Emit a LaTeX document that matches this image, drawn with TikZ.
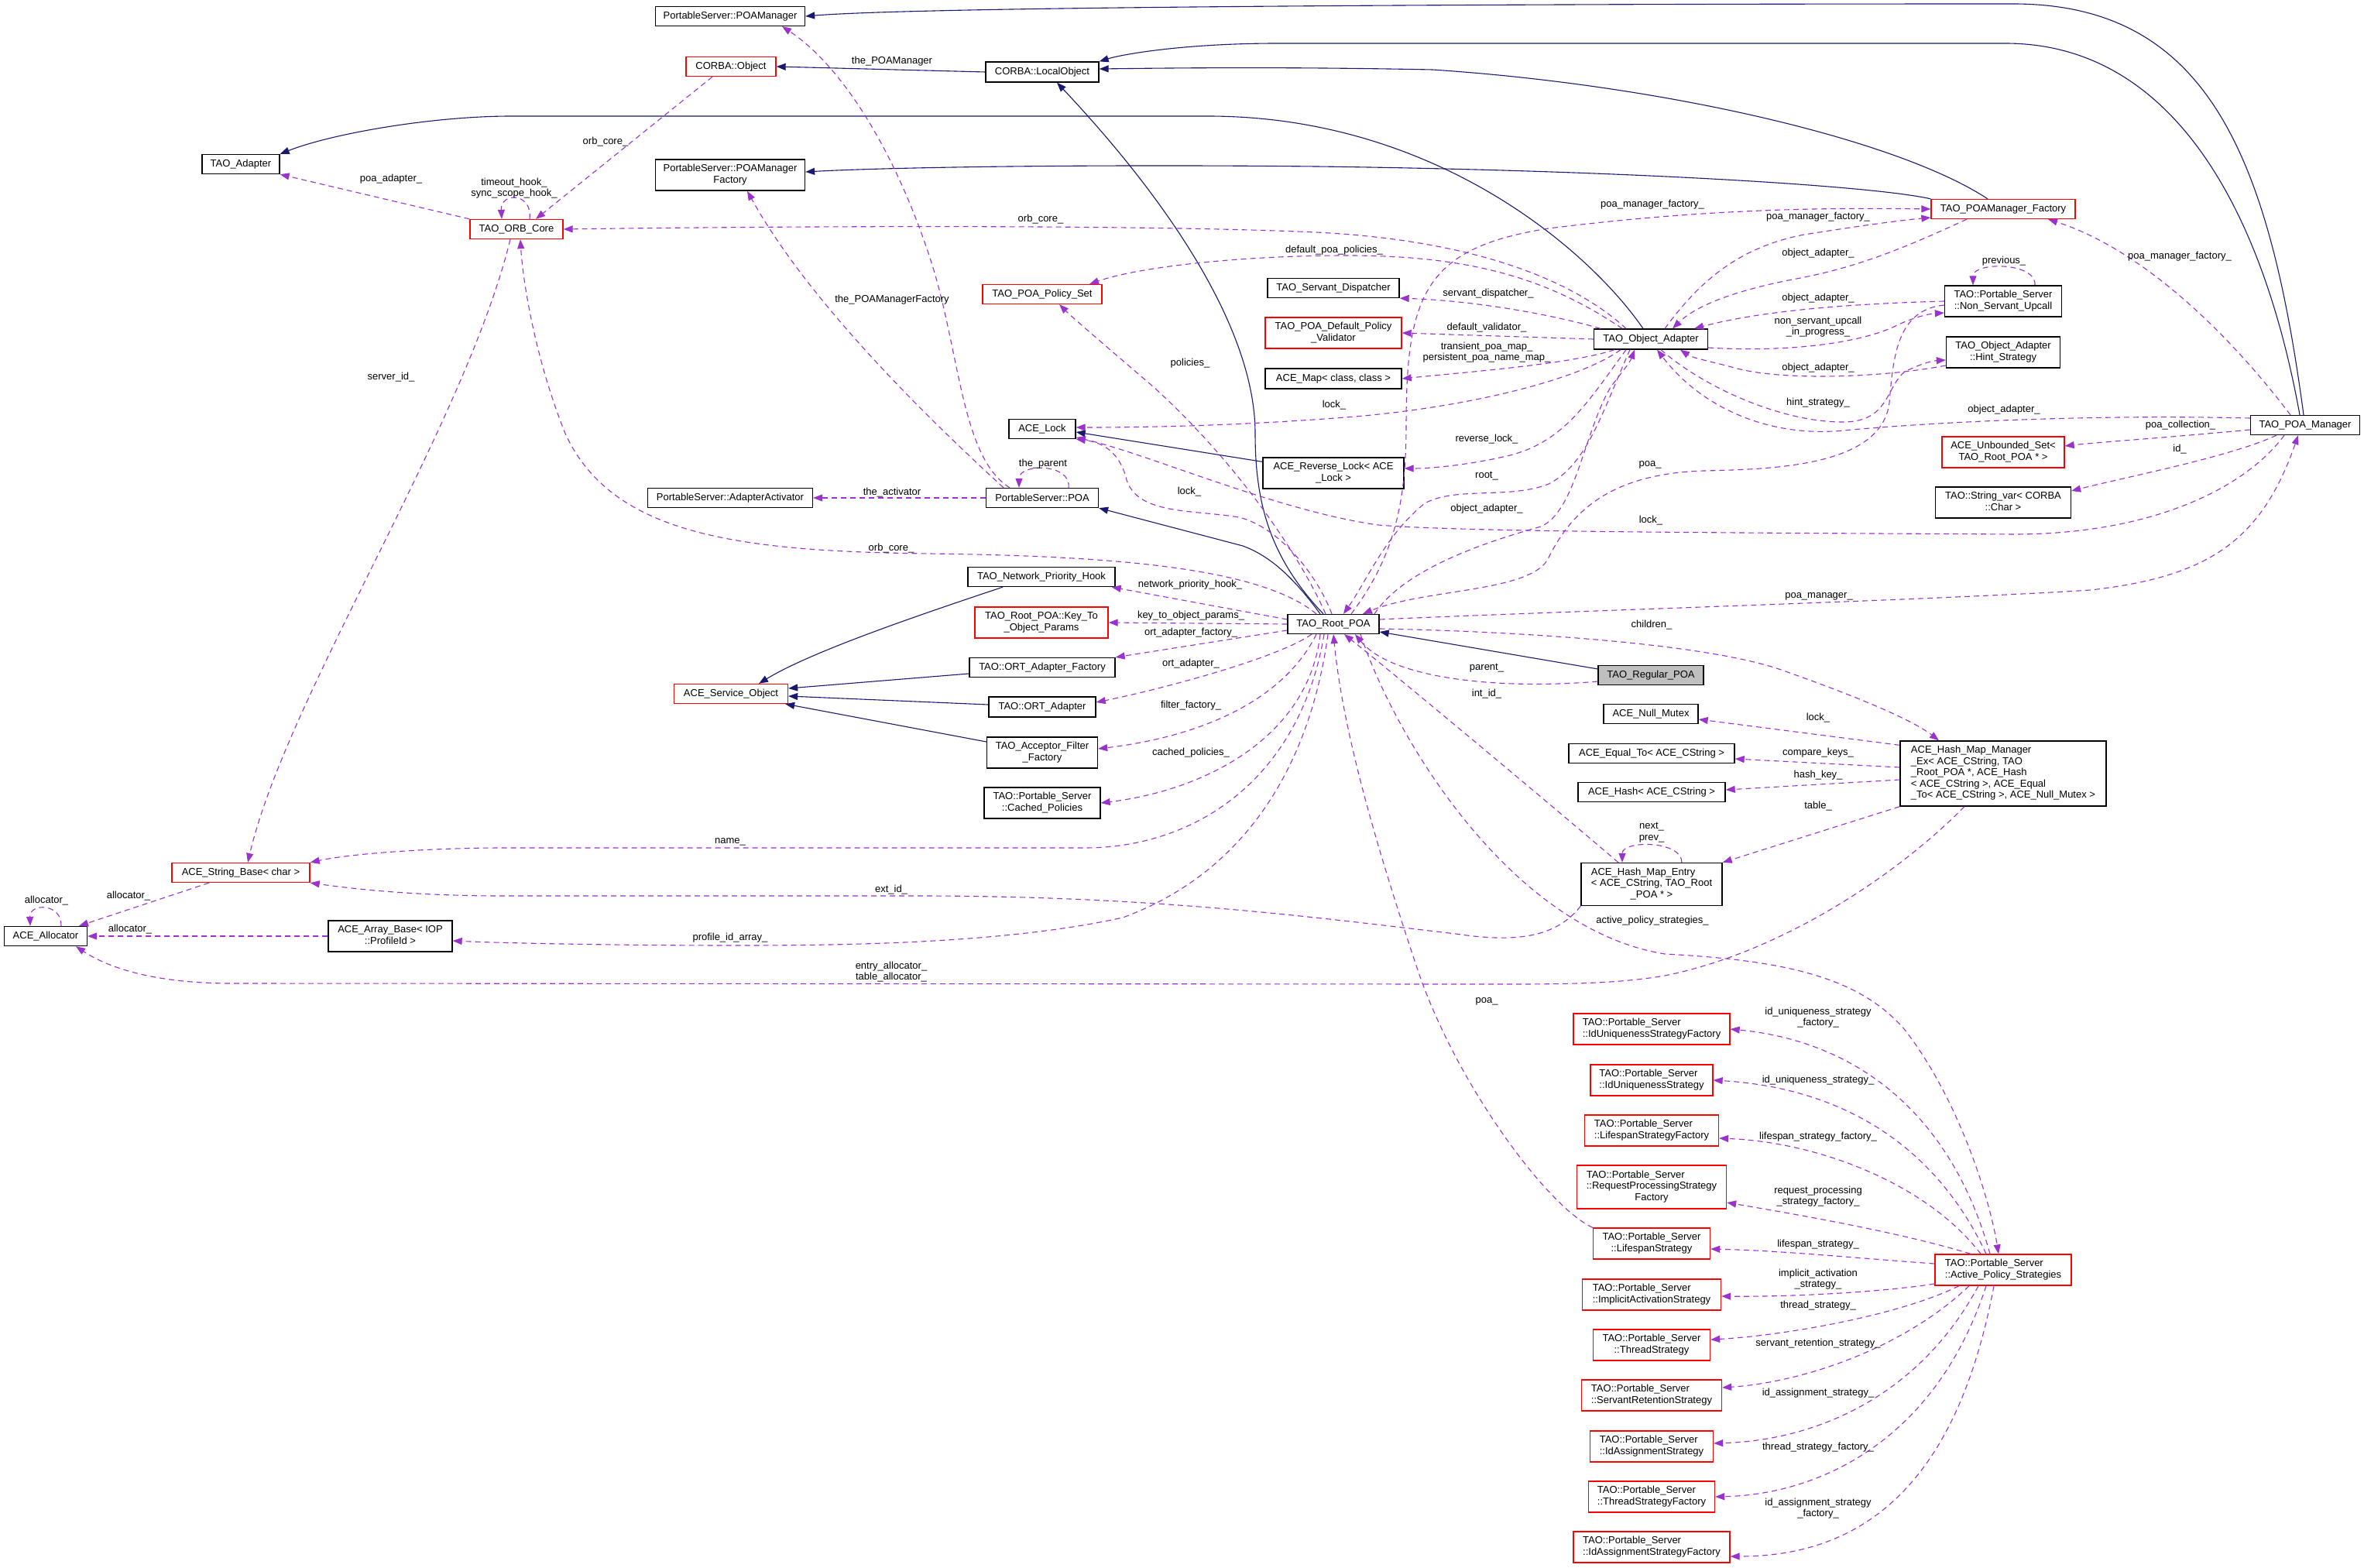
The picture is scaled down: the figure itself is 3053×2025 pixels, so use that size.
\documentclass[tikz,border=0pt]{standalone}
\usepackage{fontspec}
\usetikzlibrary{arrows.meta}
\newfontfamily\dfont{Liberation Sans}
\newcommand\dfnt{\dfont\fontsize{13}{14.5}\selectfont}
\newcommand\dtwo[2]{\begin{tabular}{@{}l@{}}#1\\\multicolumn{1}{@{}c@{}}{#2}\end{tabular}}
\newcommand\dthree[3]{\begin{tabular}{@{}l@{}}#1\\#2\\\multicolumn{1}{@{}c@{}}{#3}\end{tabular}}
\definecolor{navyc}{HTML}{191970}
\definecolor{orchidc}{HTML}{9A32CD}
\definecolor{grayc}{HTML}{BFBFBF}
\definecolor{redc}{HTML}{FF0000}
\begin{document}
\begin{tikzpicture}[x=1pt,y=-1pt,
  boxk/.style={draw=black,line width=1.3pt,fill=white,inner sep=0pt,font=\dfnt},
  boxr/.style={boxk,draw=redc},
  boxg/.style={boxk,fill=grayc},
  inhline/.style={draw=navyc,line width=1.1pt,-{Triangle[length=12pt,width=9pt]}},
  useline/.style={draw=orchidc,line width=1.1pt,dash pattern=on 7pt off 5pt,-{Triangle[length=12pt,width=9pt]}},
  elabel/.style={font=\dfnt,inner sep=0pt,align=center}]
\useasboundingbox (0,0) rectangle (3053,2025);
\fill[white] (0,0) rectangle (3053,2025);

% ---------- nodes ----------
\node[boxk,minimum width=193pt,minimum height=25pt] (psm) at (943,21) {PortableServer::POAManager};
\node[boxr,minimum width=116pt,minimum height=25pt] (cobj) at (944,86) {CORBA::Object};
\node[boxk,minimum width=146pt,minimum height=26pt] (lobj) at (1346,93) {CORBA::LocalObject};
\node[boxk,minimum width=100pt,minimum height=25pt] (tadp) at (311,212) {TAO\_Adapter};
\node[boxk,minimum width=193pt,minimum height=40pt] (psmf) at (943,226) {\dtwo{PortableServer::POAManager}{Factory}};
\node[boxr,minimum width=120pt,minimum height=25pt] (orb) at (667,296) {TAO\_ORB\_Core};
\node[boxr,minimum width=154pt,minimum height=25pt] (pset) at (1346,380) {TAO\_POA\_Policy\_Set};
\node[boxk,minimum width=170pt,minimum height=25pt] (sdisp) at (1722,372) {TAO\_Servant\_Dispatcher};
\node[boxr,minimum width=176pt,minimum height=40pt] (dpv) at (1722,430) {\dtwo{TAO\_POA\_Default\_Policy}{\_Validator}};
\node[boxk,minimum width=176pt,minimum height=26pt] (amap) at (1722,489) {ACE\_Map< class, class >};
\node[boxk,minimum width=86pt,minimum height=25pt] (alock) at (1346,554) {ACE\_Lock};
\node[boxk,minimum width=182pt,minimum height=40pt] (rlock) at (1722,611) {\dtwo{ACE\_Reverse\_Lock< ACE}{\_Lock >}};
\node[boxk,minimum width=213pt,minimum height=25pt] (aact) at (943,643) {PortableServer::AdapterActivator};
\node[boxk,minimum width=145pt,minimum height=25pt] (poa) at (1346,643) {PortableServer::POA};
\node[boxr,minimum width=186pt,minimum height=25pt] (pmf) at (2587,270) {TAO\_POAManager\_Factory};
\node[boxk,minimum width=151pt,minimum height=40pt] (nsu) at (2587,389) {\dtwo{TAO::Portable\_Server}{::Non\_Servant\_Upcall}};
\node[boxk,minimum width=147pt,minimum height=26pt] (oa) at (2132,438) {TAO\_Object\_Adapter};
\node[boxk,minimum width=147pt,minimum height=40pt] (hint) at (2587,455) {\dtwo{TAO\_Object\_Adapter}{::Hint\_Strategy}};
\node[boxk,minimum width=141pt,minimum height=25pt] (pman) at (2977,549) {TAO\_POA\_Manager};
\node[boxr,minimum width=158pt,minimum height=40pt] (uset) at (2587,584) {\dtwo{ACE\_Unbounded\_Set<}{TAO\_Root\_POA * >}};
\node[boxk,minimum width=175pt,minimum height=40pt] (svar) at (2587,649) {\dtwo{TAO::String\_var< CORBA}{::Char >}};
\node[boxk,minimum width=190pt,minimum height=25pt] (nph) at (1345,745) {TAO\_Network\_Priority\_Hook};
\node[boxr,minimum width=172pt,minimum height=40pt] (ktop) at (1345,804) {\dtwo{TAO\_Root\_POA::Key\_To}{\_Object\_Params}};
\node[boxk,minimum width=188pt,minimum height=25pt] (ortf) at (1346,862) {TAO::ORT\_Adapter\_Factory};
\node[boxr,minimum width=147pt,minimum height=25pt] (sobj) at (944,896) {ACE\_Service\_Object};
\node[boxk,minimum width=138pt,minimum height=26pt] (orta) at (1346,913) {TAO::ORT\_Adapter};
\node[boxk,minimum width=143pt,minimum height=40pt] (aff) at (1346,972) {\dtwo{TAO\_Acceptor\_Filter}{\_Factory}};
\node[boxk,minimum width=150pt,minimum height=40pt] (cpol) at (1346,1037) {\dtwo{TAO::Portable\_Server}{::Cached\_Policies}};
\node[boxk,minimum width=118pt,minimum height=25pt] (rpoa) at (1722,806) {TAO\_Root\_POA};
\node[boxg,minimum width=136pt,minimum height=25pt] (regpoa) at (2132,872) {TAO\_Regular\_POA};
\node[boxk,minimum width=122pt,minimum height=25pt] (nmutex) at (2132,922) {ACE\_Null\_Mutex};
\node[boxk,minimum width=214pt,minimum height=25pt] (eqto) at (2133,973) {ACE\_Equal\_To< ACE\_CString >};
\node[boxk,minimum width=190pt,minimum height=25pt] (ahash) at (2133,1023) {ACE\_Hash< ACE\_CString >};
\node[boxk,minimum width=266pt,minimum height=84pt] (hmm) at (2587,999) {\begin{tabular}{@{}l@{}}ACE\_Hash\_Map\_Manager\\\_Ex< ACE\_CString, TAO\\\_Root\_POA *, ACE\_Hash\\< ACE\_CString >, ACE\_Equal\\\_To< ACE\_CString >, ACE\_Null\_Mutex >\end{tabular}};
\node[boxk,minimum width=182pt,minimum height=55pt] (hme) at (2133,1142) {\dthree{ACE\_Hash\_Map\_Entry}{< ACE\_CString, TAO\_Root}{\_POA * >}};
\node[boxr,minimum width=178pt,minimum height=25pt] (sbase) at (311,1127) {ACE\_String\_Base< char >};
\node[boxk,minimum width=107pt,minimum height=25pt] (alloc) at (59,1209) {ACE\_Allocator};
\node[boxk,minimum width=160pt,minimum height=40pt] (abase) at (504,1209) {\dtwo{ACE\_Array\_Base< IOP}{::ProfileId >}};
\node[boxr,minimum width=202pt,minimum height=40pt] (iusf) at (2133,1329) {\dtwo{TAO::Portable\_Server}{::IdUniquenessStrategyFactory}};
\node[boxr,minimum width=158pt,minimum height=40pt] (ius) at (2133,1395) {\dtwo{TAO::Portable\_Server}{::IdUniquenessStrategy}};
\node[boxr,minimum width=173pt,minimum height=40pt] (lsf) at (2133,1460) {\dtwo{TAO::Portable\_Server}{::LifespanStrategyFactory}};
\node[boxr,minimum width=193pt,minimum height=56pt] (rpsf) at (2133,1533) {\dthree{TAO::Portable\_Server}{::RequestProcessingStrategy}{Factory}};
\node[boxr,minimum width=151pt,minimum height=40pt] (ls) at (2133,1606) {\dtwo{TAO::Portable\_Server}{::LifespanStrategy}};
\node[boxr,minimum width=179pt,minimum height=40pt] (ias) at (2133,1672) {\dtwo{TAO::Portable\_Server}{::ImplicitActivationStrategy}};
\node[boxr,minimum width=151pt,minimum height=40pt] (ts) at (2133,1737) {\dtwo{TAO::Portable\_Server}{::ThreadStrategy}};
\node[boxr,minimum width=181pt,minimum height=40pt] (srs) at (2133,1802) {\dtwo{TAO::Portable\_Server}{::ServantRetentionStrategy}};
\node[boxr,minimum width=159pt,minimum height=40pt] (ias2) at (2133,1868) {\dtwo{TAO::Portable\_Server}{::IdAssignmentStrategy}};
\node[boxr,minimum width=163pt,minimum height=40pt] (tsf) at (2133,1933) {\dtwo{TAO::Portable\_Server}{::ThreadStrategyFactory}};
\node[boxr,minimum width=202pt,minimum height=40pt] (iasf) at (2133,1998) {\dtwo{TAO::Portable\_Server}{::IdAssignmentStrategyFactory}};
\node[boxr,minimum width=176pt,minimum height=40pt] (aps) at (2587,1640) {\dtwo{TAO::Portable\_Server}{::Active\_Policy\_Strategies}};

% ---------- inheritance ----------
\draw[inhline] (lobj.west) -- (cobj.east);
\draw[inhline] (pman.north -| 2975,0) .. controls (2930,200) and (2850,5) .. (2600,5) .. controls (2000,5) and (1200,8) .. (psm.east);
\draw[inhline] (pman.north -| 2970,0) .. controls (2920,260) and (2800,56) .. (2590,56) -- (1650,56) .. controls (1530,56) and (1450,70) .. (lobj.north east);
\draw[inhline] (pmf.north -| 2567,0) .. controls (2450,180) and (2150,110) .. (1850,90) .. controls (1650,86) and (1500,88) .. ([yshift=4pt]lobj.east);
\draw[inhline] (pmf.north west) .. controls (2420,240) and (2100,220) .. (1700,215) .. controls (1400,212) and (1150,216) .. ([yshift=4pt]psmf.east);
\draw[inhline] (oa.north -| 2122,0) .. controls (2050,320) and (1850,150) .. (1560,150) -- (660,150) .. controls (560,150) and (430,172) .. (tadp.north east);
\draw[inhline] (rpoa.north -| 1709,0) .. controls (1640,720) and (1621,650) .. (1621,560) .. controls (1621,420) and (1500,250) .. (lobj.south -| 1365,0);
\draw[inhline] (rpoa.north -| 1705,0) .. controls (1670,745) and (1640,718) .. (1605,705) -- (poa.south east);
\draw[inhline] ([yshift=-6pt]rlock.north west) -- ([yshift=-4pt]alock.east);
\draw[inhline] ([yshift=8pt]regpoa.west) -- ([yshift=-10pt]rpoa.east);
\draw[inhline] (nph.south -| 1295,0) .. controls (1200,790) and (1050,840) .. (sobj.north -| 980,0);
\draw[inhline] ([yshift=-8pt]ortf.west) -- ([yshift=7pt]sobj.east);
\draw[inhline] ([yshift=3pt]orta.west) -- ([yshift=-3pt]sobj.east);
\draw[inhline] ([yshift=14pt]aff.west) -- ([xshift=-4pt]sobj.south east);

% ---------- usage ----------
\draw[useline] (cobj.south -| 920,0) -- (orb.north -| 692,0);
\draw[useline] (orb.north west) -- (tadp.south east);
\draw[useline] (orb.north -| 684,0) .. controls (688,248) and (646,248) .. (orb.north -| 648,0);
\draw[useline] (orb.south -| 659,0) .. controls (600,550) and (370,900) .. (sbase.north -| 320,0);
\draw[useline] (rpoa.north -| 1700,0) .. controls (1630,735) and (1450,718) .. (1200,715) .. controls (950,712) and (790,690) .. (730,560) .. controls (690,460) and (675,360) .. (orb.south -| 672,0);
\draw[useline] (oa.north -| 2100,0) .. controls (2030,360) and (1900,310) .. (1700,300) .. controls (1500,291) and (1100,291) .. (orb.east);
\draw[useline] (poa.north -| 1304,0) .. controls (1240,590) and (1240,450) .. (1200,330) .. controls (1150,180) and (1080,80) .. (psm.south -| 1010,0);
\draw[useline] (poa.north -| 1296,0) .. controls (1220,560) and (1050,400) .. (psmf.south -| 965,0);
\draw[useline] (poa.west) -- (aact.east);
\draw[useline] (poa.north -| 1380,0) .. controls (1384,598) and (1316,598) .. (poa.north -| 1316,0);
\draw[useline] (oa.north -| 2095,0) .. controls (2000,360) and (1900,330) .. (1740,330) .. controls (1600,330) and (1470,345) .. (pset.north -| 1407,0);
\draw[useline] (rpoa.north -| 1712,0) .. controls (1680,720) and (1600,600) .. (1490,500) .. controls (1420,440) and (1385,410) .. (pset.south -| 1368,0);
\draw[useline] (oa.north -| 2067,0) .. controls (2000,405) and (1900,388) .. (sdisp.south east);
\draw[useline] (oa.west) -- (dpv.east);
\draw[useline] (oa.south -| 2085,0) .. controls (2030,470) and (1900,480) .. (amap.east);
\draw[useline] (oa.south -| 2093,0) .. controls (2040,490) and (1900,525) .. (1750,538) .. controls (1600,550) and (1480,552) .. ([yshift=2pt]alock.east);
\draw[useline] (oa.south -| 2100,0) .. controls (2050,520) and (2020,570) .. (1950,588) .. controls (1900,600) and (1850,605) .. ([yshift=6pt]rlock.east);
\draw[useline] (oa.south -| 2105,0) .. controls (2070,530) and (2050,600) .. (2000,625) .. controls (1950,645) and (1880,628) .. (1840,650) .. controls (1790,690) and (1765,750) .. (rpoa.north -| 1735,0);
\draw[useline] (rpoa.north -| 1775,0) .. controls (1810,740) and (1900,705) .. (1990,680) .. controls (2035,660) and (2045,560) .. (2080,500) .. controls (2095,480) and (2105,468) .. (oa.south -| 2111,0);
\draw[useline] ([yshift=-5pt]nsu.west) .. controls (2450,400) and (2445,460) .. (2440,520) .. controls (2430,600) and (2300,606) .. (2200,608) .. controls (2080,612) and (2030,660) .. (2000,720) .. controls (1980,765) and (1840,760) .. (rpoa.north -| 1760,0);
\draw[useline] (rpoa.north -| 1745,0) .. controls (1800,720) and (1816,650) .. (1816,550) .. controls (1816,380) and (1840,320) .. (2000,295) .. controls (2200,270) and (2350,268) .. (pmf.west);
\draw[useline] (oa.north -| 2150,0) .. controls (2190,370) and (2240,320) .. (2330,303) .. controls (2400,292) and (2450,285) .. ([yshift=-11pt]pmf.west);
\draw[useline] (pmf.south -| 2540,0) .. controls (2460,320) and (2400,345) .. (2320,360) .. controls (2240,375) and (2190,395) .. (oa.north -| 2160,0);
\draw[useline] (nsu.west) .. controls (2400,392) and (2280,400) .. (oa.north -| 2188,0);
\draw[useline] ([yshift=-11pt]oa.east) .. controls (2300,455) and (2400,445) .. (2450,420) .. controls (2475,408) and (2495,405) .. ([yshift=-15pt]nsu.west);
\draw[useline] ([yshift=-17pt]hint.west) .. controls (2430,488) and (2300,492) .. (2240,475) .. controls (2210,467) and (2185,462) .. (oa.south -| 2170,0);
\draw[useline] (oa.south -| 2145,0) .. controls (2200,500) and (2300,545) .. (2380,545) .. controls (2440,545) and (2435,500) .. (2460,480) .. controls (2480,470) and (2495,466) .. ([yshift=-10pt]hint.west);
\draw[useline] ([yshift=9pt]pman.west) .. controls (2700,535) and (2500,545) .. (2380,556) .. controls (2290,565) and (2200,530) .. (oa.south -| 2140,0);
\draw[useline] (pman.north -| 2958,0) .. controls (2870,420) and (2760,320) .. (pmf.south -| 2645,0);
\draw[useline] ([yshift=-6pt]pman.west) .. controls (2800,565) and (2700,572) .. ([yshift=8pt]uset.east);
\draw[useline] (pman.south -| 2940,0) .. controls (2880,590) and (2750,615) .. ([yshift=15pt]svar.east);
\draw[useline] (pman.south -| 2950,0) .. controls (2900,630) and (2780,690) .. (2600,690) .. controls (2300,688) and (1900,688) .. (1780,678) .. controls (1650,660) and (1480,585) .. ([yshift=-11pt]alock.east);
\draw[useline] (rpoa.north -| 1720,0) .. controls (1700,740) and (1650,680) .. (1600,668) .. controls (1540,658) and (1470,665) .. (1455,620) .. controls (1448,590) and (1430,572) .. (alock.south east);
\draw[useline] ([yshift=6pt]rpoa.west) -- ([xshift=-5pt]nph.south east);
\draw[useline] (rpoa.west) -- (ktop.east);
\draw[useline] ([yshift=-8pt]rpoa.west) -- (ortf.north east);
\draw[useline] (rpoa.south -| 1694,0) .. controls (1650,850) and (1500,890) .. ([yshift=6pt]orta.east);
\draw[useline] (rpoa.south -| 1700,0) .. controls (1660,900) and (1560,950) .. ([yshift=5pt]aff.east);
\draw[useline] (rpoa.south -| 1705,0) .. controls (1690,950) and (1560,1020) .. (cpol.east);
\draw[useline] (rpoa.south -| 1710,0) .. controls (1680,1000) and (1550,1095) .. (1400,1095) -- (650,1095) .. controls (550,1095) and (450,1103) .. (sbase.north east);
\draw[useline] (hme.south west) .. controls (2010,1210) and (1960,1218) .. (1880,1206) .. controls (1700,1185) and (1500,1158) .. (1200,1157) -- (650,1157) .. controls (530,1157) and (450,1147) .. (sbase.south east);
\draw[useline] (rpoa.south -| 1715,0) .. controls (1690,1000) and (1600,1130) .. (1450,1185) .. controls (1300,1218) and (1100,1221) .. (950,1221) .. controls (800,1221) and (650,1218) .. ([yshift=-6pt]abase.east);
\draw[useline] (abase.west) -- (alloc.east);
\draw[useline] (sbase.south -| 270,0) -- (alloc.north -| 102,0);
\draw[useline] (alloc.north -| 79,0) .. controls (80,1166) and (38,1166) .. (alloc.north -| 39,0);
\draw[useline] (hmm.south -| 2537,0) .. controls (2450,1130) and (2300,1230) .. (2150,1260) .. controls (2080,1272) and (2000,1271) .. (1900,1271) -- (300,1270) .. controls (200,1270) and (140,1250) .. (alloc.south -| 98,0);
\draw[useline] ([yshift=-8pt]regpoa.west) .. controls (1950,890) and (1800,880) .. (rpoa.south -| 1750,0);
\draw[useline] (hme.north -| 2090,0) .. controls (1980,1020) and (1800,870) .. (rpoa.south -| 1736,0);
\draw[useline] ([yshift=-6pt]rpoa.east) .. controls (1950,815) and (2200,830) .. (2300,865) .. controls (2400,900) and (2470,930) .. (hmm.north -| 2504,0);
\draw[useline] ([yshift=6pt]rpoa.east) .. controls (2000,790) and (2500,775) .. (2700,762) .. controls (2850,745) and (2920,700) .. (pman.south -| 2968,0);
\draw[useline] (rpoa.south -| 1757,0) .. controls (1800,950) and (1950,1200) .. (2150,1232) .. controls (2300,1240) and (2400,1260) .. (2460,1330) .. controls (2530,1420) and (2570,1550) .. (aps.north -| 2581,0);
\draw[useline] (ls.north west) .. controls (2000,1560) and (1880,1400) .. (1830,1250) .. controls (1780,1100) and (1735,950) .. (rpoa.south -| 1722,0);
\draw[useline] ([yshift=-6pt]hmm.north west) -- ([yshift=-7pt]nmutex.east);
\draw[useline] ([yshift=8pt]hmm.west) -- ([yshift=-7pt]eqto.east);
\draw[useline] ([yshift=-8pt]hmm.west) -- ([yshift=3pt]ahash.east);
\draw[useline] (hmm.south west) -- (hme.north east);
\draw[useline] (hme.north -| 2172,0) .. controls (2172,1085) and (2095,1085) .. (hme.north -| 2095,0);
\draw[useline] (nsu.north -| 2628,0) .. controls (2630,338) and (2548,338) .. (nsu.north -| 2548,0);
\draw[useline] (aps.north -| 2570,0) .. controls (2520,1440) and (2400,1345) .. (iusf.east);
\draw[useline] (aps.north -| 2565,0) .. controls (2500,1480) and (2380,1405) .. (ius.east);
\draw[useline] (aps.north -| 2558,0) .. controls (2490,1530) and (2350,1475) .. ([yshift=-10pt]lsf.east);
\draw[useline] (aps.north -| 2545,0) .. controls (2450,1590) and (2300,1565) .. ([yshift=-20pt]rpsf.east);
\draw[useline] ([yshift=8pt]aps.west) .. controls (2400,1625) and (2300,1615) .. ([yshift=-7pt]ls.east);
\draw[useline] ([yshift=-18pt]aps.west) .. controls (2420,1670) and (2300,1675) .. ([yshift=-2pt]ias.east);
\draw[useline] (aps.south -| 2530,0) .. controls (2450,1700) and (2300,1725) .. ([yshift=7pt]ts.east);
\draw[useline] (aps.south -| 2543,0) .. controls (2460,1740) and (2330,1785) .. ([yshift=10pt]srs.east);
\draw[useline] (aps.south -| 2555,0) .. controls (2480,1800) and (2350,1860) .. ([yshift=4pt]ias2.east);
\draw[useline] (aps.south -| 2565,0) .. controls (2500,1860) and (2350,1930) .. (tsf.east);
\draw[useline] (aps.south -| 2575,0) .. controls (2530,1900) and (2420,2010) .. ([yshift=-12pt]iasf.east);

% ---------- labels ----------
\node[elabel] (l01) at (782,183) {orb\_core\_};
\node[elabel] (l02) at (505,231) {poa\_adapter\_};
\node[elabel] (l03) at (664,243) {timeout\_hook\_\\sync\_scope\_hook\_};
\node[elabel] (l04) at (505,487) {server\_id\_};
\node[elabel] (l05) at (1151,708) {orb\_core\_};
\node[elabel] (l06) at (1344,283) {orb\_core\_};
\node[elabel] (l07) at (1152,79) {the\_POAManager};
\node[elabel] (l08) at (1152,387) {the\_POAManagerFactory};
\node[elabel] (l09) at (1152,636) {the\_activator};
\node[elabel] (l10) at (1347,599) {the\_parent};
\node[elabel] (l11) at (1723,323) {default\_poa\_policies\_};
\node[elabel] (l12) at (1537,469) {policies\_};
\node[elabel] (l13) at (1922,379) {servant\_dispatcher\_};
\node[elabel] (l14) at (1920,423) {default\_validator\_};
\node[elabel] (l15) at (1920,455) {transient\_poa\_map\_\\persistent\_poa\_name\_map\_};
\node[elabel] (l16) at (1723,523) {lock\_};
\node[elabel] (l17) at (1920,567) {reverse\_lock\_};
\node[elabel] (l18) at (1920,615) {root\_};
\node[elabel] (l19) at (1920,657) {object\_adapter\_};
\node[elabel] (l20) at (1536,635) {lock\_};
\node[elabel] (l21) at (2131,600) {poa\_};
\node[elabel] (l22) at (2134,264) {poa\_manager\_factory\_};
\node[elabel] (l23) at (2348,280) {poa\_manager\_factory\_};
\node[elabel] (l24) at (2348,327) {object\_adapter\_};
\node[elabel] (l25) at (2588,337) {previous\_};
\node[elabel] (l26) at (2348,385) {object\_adapter\_};
\node[elabel] (l27) at (2348,422) {non\_servant\_upcall\\\_in\_progress\_};
\node[elabel] (l28) at (2348,475) {object\_adapter\_};
\node[elabel] (l29) at (2348,520) {hint\_strategy\_};
\node[elabel] (l30) at (2588,529) {object\_adapter\_};
\node[elabel] (l31) at (2815,331) {poa\_manager\_factory\_};
\node[elabel] (l32) at (2816,549) {poa\_collection\_};
\node[elabel] (l33) at (2815,580) {id\_};
\node[elabel] (l34) at (2132,672) {lock\_};
\node[elabel] (l35) at (1537,755) {network\_priority\_hook\_};
\node[elabel] (l36) at (1538,795) {key\_to\_object\_params\_};
\node[elabel] (l37) at (1538,817) {ort\_adapter\_factory\_};
\node[elabel] (l38) at (1538,857) {ort\_adapter\_};
\node[elabel] (l39) at (1538,911) {filter\_factory\_};
\node[elabel] (l40) at (1538,972) {cached\_policies\_};
\node[elabel] (l41) at (2349,770) {poa\_manager\_};
\node[elabel] (l42) at (2133,807) {children\_};
\node[elabel] (l43) at (1920,863) {parent\_};
\node[elabel] (l44) at (1920,896) {int\_id\_};
\node[elabel] (l45) at (2348,927) {lock\_};
\node[elabel] (l46) at (2348,972) {compare\_keys\_};
\node[elabel] (l47) at (2348,1001) {hash\_key\_};
\node[elabel] (l48) at (2348,1041) {table\_};
\node[elabel] (l49) at (2133,1075) {next\_\\prev\_};
\node[elabel] (l50) at (2134,1189) {active\_policy\_strategies\_};
\node[elabel] (l51) at (1920,1293) {poa\_};
\node[elabel] (l52) at (943,1087) {name\_};
\node[elabel] (l53) at (1151,1149) {ext\_id\_};
\node[elabel] (l54) at (1151,1255) {entry\_allocator\_\\table\_allocator\_};
\node[elabel] (l55) at (943,1211) {profile\_id\_array\_};
\node[elabel] (l56) at (166,1157) {allocator\_};
\node[elabel] (l57) at (60,1163) {allocator\_};
\node[elabel] (l58) at (168,1200) {allocator\_};
\node[elabel] (l59) at (2348,1314) {id\_uniqueness\_strategy\\\_factory\_};
\node[elabel] (l60) at (2348,1395) {id\_uniqueness\_strategy\_};
\node[elabel] (l61) at (2348,1468) {lifespan\_strategy\_factory\_};
\node[elabel] (l62) at (2348,1545) {request\_processing\\\_strategy\_factory\_};
\node[elabel] (l63) at (2348,1607) {lifespan\_strategy\_};
\node[elabel] (l64) at (2348,1652) {implicit\_activation\\\_strategy\_};
\node[elabel] (l65) at (2348,1686) {thread\_strategy\_};
\node[elabel] (l66) at (2348,1735) {servant\_retention\_strategy\_};
\node[elabel] (l67) at (2348,1799) {id\_assignment\_strategy\_};
\node[elabel] (l68) at (2348,1869) {thread\_strategy\_factory\_};
\node[elabel] (l69) at (2348,1948) {id\_assignment\_strategy\\\_factory\_};
\end{tikzpicture}
\end{document}
